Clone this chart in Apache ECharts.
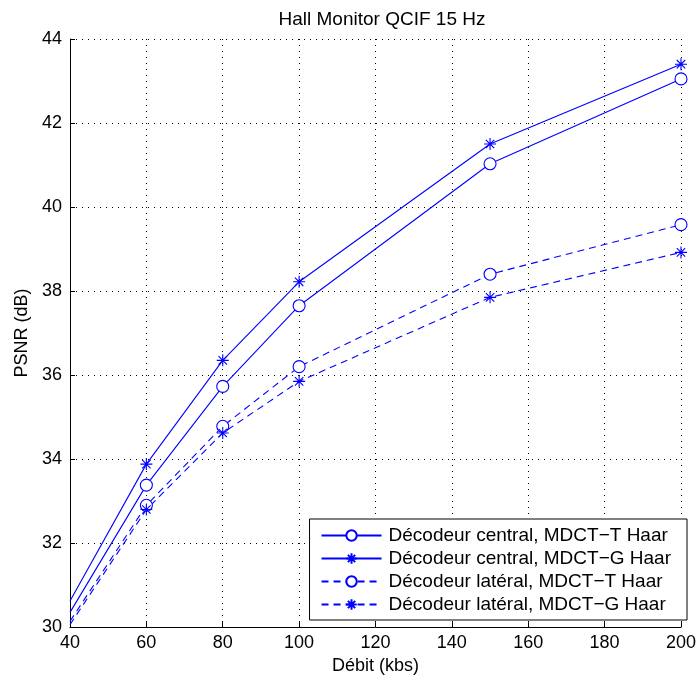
<!DOCTYPE html>
<html><head><meta charset="utf-8">
<script src="https://cdn.jsdelivr.net/npm/echarts@6/dist/echarts.min.js"></script>
<style>html,body{margin:0;padding:0;background:#fff}#c{width:699px;height:680px}</style>
</head><body><div id="c"></div>
<script>
const rates = [40, 60, 80, 100, 150, 200];
const centralT = [30.35, 33.38, 35.73, 37.65, 41.03, 43.05];
const centralG = [30.62, 33.88, 36.35, 38.22, 41.50, 43.40];
const lateralT = [30.14, 32.90, 34.78, 36.20, 38.40, 39.58];
const lateralG = [30.06, 32.80, 34.62, 35.85, 37.85, 38.92];
const names = ['Décodeur central, MDCT\u2212T Haar','Décodeur central, MDCT\u2212G Haar','Décodeur latéral, MDCT\u2212T Haar','Décodeur latéral, MDCT\u2212G Haar'];
const xTicks = [40,60,80,100,120,140,160,180,200];
const yTicks = [30,32,34,36,38,40,42,44];

const star = 'path://M0,-10L0,10M-10,0L10,0M-7,-7L7,7M-7,7L7,-7';
const font = 'Liberation Sans, Arial, Helvetica, sans-serif';
function mk(name, vals, sym, dashed){
  return {
    name, type:'line', data: vals.map((v,i)=>{
      const d = {value:[rates[i], v]};
      if (i===0) d.symbol='none';
      return d;
    }),
    symbol: sym === 'o' ? 'circle' : star,
    symbolSize: 12,
    showSymbol: true,
    itemStyle: {color: sym==='o' ? '#fff' : 'none', borderColor:'#0000ff', borderWidth:1.1},
    lineStyle: {color:'#0000ff', width:1.1, type: dashed ? [7,5] : 'solid'},
    clip: true, animation:false
  };
}
const chart = echarts.init(document.getElementById('c'));
chart.setOption({
  animation:false,
  title:{text:'Hall Monitor QCIF 15 Hz', left:377, textAlign:'center', top:5,
    textStyle:{fontFamily:font, fontSize:19, fontWeight:'normal', color:'#000'}},
  grid:{left:70, right:14, top:39, bottom:51},
  legend:{
    data: names, orient:'vertical', right:12, bottom:60,
    backgroundColor:'#fff', borderColor:'#000', borderWidth:1,
    padding:[7,16,6,11], itemGap:4, itemWidth:60, itemHeight:13,
    textStyle:{fontFamily:font, fontSize:19, color:'#000', padding:[0,0,0,2], lineHeight:19}
  },
  xAxis:{type:'value', min:40, max:200, interval:20,
    name:'Débit (kbs)', nameLocation:'middle', nameGap:27,
    nameTextStyle:{fontFamily:font, fontSize:18, color:'#000'},
    axisLine:{show:true, onZero:false, lineStyle:{color:'#000', width:1}},
    axisTick:{show:true, inside:true, length:5, lineStyle:{color:'#000'}},
    axisLabel:{fontFamily:font, fontSize:18, color:'#000', margin:7,
      formatter: v => xTicks.includes(v) ? String(v) : ''},
    splitLine:{show:true, lineStyle:{color:'#000', type:[1,5], width:1}}
  },
  yAxis:{type:'value', min:30, max:44, interval:2,
    name:'PSNR (dB)', nameLocation:'middle', nameGap:36,
    nameTextStyle:{fontFamily:font, fontSize:18, color:'#000'},
    axisLine:{show:true, onZero:false, lineStyle:{color:'#000', width:1}},
    axisTick:{show:true, inside:true, length:5, lineStyle:{color:'#000'}},
    axisLabel:{fontFamily:font, fontSize:18, color:'#000', margin:8,
      formatter: v => yTicks.includes(v) ? String(v) : ''},
    splitLine:{show:true, lineStyle:{color:'#000', type:[1,5], width:1}}
  },
  series:[
    mk(names[0], centralT, 'o', false),
    mk(names[1], centralG, '*', false),
    mk(names[2], lateralT, 'o', true),
    mk(names[3], lateralG, '*', true)
  ]
});
</script></body></html>
